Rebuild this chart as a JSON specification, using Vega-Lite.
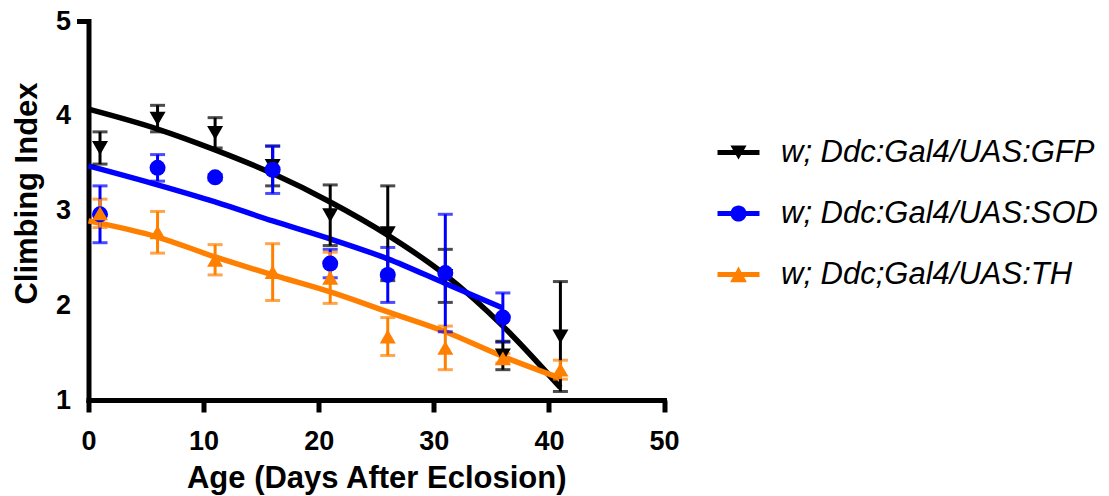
{
  "$schema": "https://vega.github.io/schema/vega-lite/v6.json",
  "width": 575.5,
  "height": 379,
  "autosize": {"type": "none"},
  "padding": {"left": 88.5, "top": 21, "right": 445, "bottom": 96},
  "background": "white",
  "config": {
    "view": {"stroke": null},
    "axis": {
      "grid": false,
      "domainColor": "black",
      "domainWidth": 5,
      "domainCap": "square",
      "tickColor": "black",
      "tickWidth": 5,
      "tickSize": 12,
      "labelFlush": false,
      "labelFont": "Liberation Sans",
      "labelFontWeight": "bold",
      "labelFontSize": 27,
      "labelColor": "black",
      "titleFont": "Liberation Sans",
      "titleFontWeight": "bold",
      "titleFontSize": 31,
      "titleColor": "black"
    }
  },
  "datasets": {
    "means": [
      {"day": 1, "climb": 3.66, "sem": 0.17, "genotype": "w; Ddc:Gal4/UAS:GFP"},
      {"day": 6, "climb": 3.97, "sem": 0.14, "genotype": "w; Ddc:Gal4/UAS:GFP"},
      {"day": 11, "climb": 3.82, "sem": 0.16, "genotype": "w; Ddc:Gal4/UAS:GFP"},
      {"day": 16, "climb": 3.47, "sem": 0.21, "genotype": "w; Ddc:Gal4/UAS:GFP"},
      {"day": 21, "climb": 2.95, "sem": 0.32, "genotype": "w; Ddc:Gal4/UAS:GFP"},
      {"day": 26, "climb": 2.76, "sem": 0.5, "genotype": "w; Ddc:Gal4/UAS:GFP"},
      {"day": 31, "climb": 2.31, "sem": 0.28, "genotype": "w; Ddc:Gal4/UAS:GFP"},
      {"day": 36, "climb": 1.47, "sem": 0.15, "genotype": "w; Ddc:Gal4/UAS:GFP"},
      {"day": 41, "climb": 1.67, "sem": 0.58, "genotype": "w; Ddc:Gal4/UAS:GFP"},
      {"day": 1, "climb": 2.96, "sem": 0.3, "genotype": "w; Ddc:Gal4/UAS:SOD"},
      {"day": 6, "climb": 3.45, "sem": 0.14, "genotype": "w; Ddc:Gal4/UAS:SOD"},
      {"day": 11, "climb": 3.35, "sem": 0.03, "genotype": "w; Ddc:Gal4/UAS:SOD"},
      {"day": 16, "climb": 3.43, "sem": 0.25, "genotype": "w; Ddc:Gal4/UAS:SOD"},
      {"day": 21, "climb": 2.44, "sem": 0.15, "genotype": "w; Ddc:Gal4/UAS:SOD"},
      {"day": 26, "climb": 2.32, "sem": 0.29, "genotype": "w; Ddc:Gal4/UAS:SOD"},
      {"day": 31, "climb": 2.34, "sem": 0.62, "genotype": "w; Ddc:Gal4/UAS:SOD"},
      {"day": 36, "climb": 1.87, "sem": 0.26, "genotype": "w; Ddc:Gal4/UAS:SOD"},
      {"day": 1, "climb": 2.97, "sem": 0.15, "genotype": "w; Ddc;Gal4/UAS:TH"},
      {"day": 6, "climb": 2.77, "sem": 0.22, "genotype": "w; Ddc;Gal4/UAS:TH"},
      {"day": 11, "climb": 2.48, "sem": 0.16, "genotype": "w; Ddc;Gal4/UAS:TH"},
      {"day": 16, "climb": 2.35, "sem": 0.3, "genotype": "w; Ddc;Gal4/UAS:TH"},
      {"day": 21, "climb": 2.29, "sem": 0.27, "genotype": "w; Ddc;Gal4/UAS:TH"},
      {"day": 26, "climb": 1.67, "sem": 0.2, "genotype": "w; Ddc;Gal4/UAS:TH"},
      {"day": 31, "climb": 1.55, "sem": 0.23, "genotype": "w; Ddc;Gal4/UAS:TH"},
      {"day": 36, "climb": 1.44, "sem": 0.05, "genotype": "w; Ddc;Gal4/UAS:TH"},
      {"day": 41, "climb": 1.32, "sem": 0.1, "genotype": "w; Ddc;Gal4/UAS:TH"}
    ],
    "fits": [
      {"day": 0, "climb": 4.07, "genotype": "w; Ddc:Gal4/UAS:GFP"},
      {"day": 6, "climb": 3.86, "genotype": "w; Ddc:Gal4/UAS:GFP"},
      {"day": 11, "climb": 3.64, "genotype": "w; Ddc:Gal4/UAS:GFP"},
      {"day": 16, "climb": 3.39, "genotype": "w; Ddc:Gal4/UAS:GFP"},
      {"day": 21, "climb": 3.09, "genotype": "w; Ddc:Gal4/UAS:GFP"},
      {"day": 26, "climb": 2.74, "genotype": "w; Ddc:Gal4/UAS:GFP"},
      {"day": 31, "climb": 2.32, "genotype": "w; Ddc:Gal4/UAS:GFP"},
      {"day": 36, "climb": 1.78, "genotype": "w; Ddc:Gal4/UAS:GFP"},
      {"day": 41, "climb": 1.13, "genotype": "w; Ddc:Gal4/UAS:GFP"},
      {"day": 0, "climb": 3.47, "genotype": "w; Ddc:Gal4/UAS:SOD"},
      {"day": 6, "climb": 3.27, "genotype": "w; Ddc:Gal4/UAS:SOD"},
      {"day": 11, "climb": 3.09, "genotype": "w; Ddc:Gal4/UAS:SOD"},
      {"day": 16, "climb": 2.89, "genotype": "w; Ddc:Gal4/UAS:SOD"},
      {"day": 21, "climb": 2.7, "genotype": "w; Ddc:Gal4/UAS:SOD"},
      {"day": 26, "climb": 2.49, "genotype": "w; Ddc:Gal4/UAS:SOD"},
      {"day": 31, "climb": 2.23, "genotype": "w; Ddc:Gal4/UAS:SOD"},
      {"day": 36, "climb": 1.97, "genotype": "w; Ddc:Gal4/UAS:SOD"},
      {"day": 0, "climb": 2.89, "genotype": "w; Ddc;Gal4/UAS:TH"},
      {"day": 6, "climb": 2.72, "genotype": "w; Ddc;Gal4/UAS:TH"},
      {"day": 11, "climb": 2.51, "genotype": "w; Ddc;Gal4/UAS:TH"},
      {"day": 16, "climb": 2.32, "genotype": "w; Ddc;Gal4/UAS:TH"},
      {"day": 21, "climb": 2.14, "genotype": "w; Ddc;Gal4/UAS:TH"},
      {"day": 26, "climb": 1.93, "genotype": "w; Ddc;Gal4/UAS:TH"},
      {"day": 31, "climb": 1.72, "genotype": "w; Ddc;Gal4/UAS:TH"},
      {"day": 36, "climb": 1.46, "genotype": "w; Ddc;Gal4/UAS:TH"},
      {"day": 41, "climb": 1.23, "genotype": "w; Ddc;Gal4/UAS:TH"}
    ]
  },
  "encoding": {
    "x": {
      "field": "day",
      "type": "quantitative",
      "scale": {"domain": [0, 50], "nice": false, "zero": false},
      "axis": {
        "values": [0, 10, 20, 30, 40, 50],
        "title": "Age (Days After Eclosion)",
        "labelBaseline": "alphabetic",
        "labelPadding": 37,
        "titleBaseline": "alphabetic",
        "titleX": 287.75,
        "titleY": 87,
        "titleAnchor": "middle"
      }
    },
    "y": {
      "field": "climb",
      "type": "quantitative",
      "scale": {"domain": [1, 5], "nice": false, "zero": false},
      "axis": {
        "values": [1, 2, 3, 4, 5],
        "title": "Climbing Index",
        "labelPadding": 6,
        "tickOpacity": {"condition": {"test": "datum.value == 5", "value": 1}, "value": 0},
        "titleAngle": -90,
        "titleAlign": "center",
        "titleBaseline": "alphabetic",
        "titleX": -52,
        "titleY": 172
      }
    },
    "color": {
      "field": "genotype",
      "type": "nominal",
      "scale": {
        "domain": ["w; Ddc:Gal4/UAS:GFP", "w; Ddc:Gal4/UAS:SOD", "w; Ddc;Gal4/UAS:TH"],
        "range": ["#000000", "#0000FF", "#FF8000"]
      },
      "legend": null
    }
  },
  "resolve": {
    "scale": {"color": "independent", "shape": "independent"},
    "legend": {"color": "independent", "shape": "independent"}
  },
  "layer": [
    {
      "data": {"name": "fits"},
      "mark": {"type": "line", "interpolate": "monotone", "strokeWidth": 5.5}
    },
    {
      "data": {"name": "means"},
      "mark": {"type": "errorbar", "thickness": 3, "ticks": {"size": 15, "thickness": 3}},
      "encoding": {
        "yError": {"field": "sem"}
      }
    },
    {
      "data": {"name": "means"},
      "mark": {"type": "point", "filled": true, "size": 256, "opacity": 1},
      "encoding": {
        "shape": {
          "field": "genotype",
          "type": "nominal",
          "scale": {
            "domain": ["w; Ddc:Gal4/UAS:GFP", "w; Ddc:Gal4/UAS:SOD", "w; Ddc;Gal4/UAS:TH"],
            "range": ["triangle-down", "circle", "triangle-up"]
          },
          "legend": null
        }
      }
    },
    {
      "data": {"name": "means"},
      "mark": {"type": "point", "filled": true, "size": 196, "opacity": 0},
      "encoding": {
        "shape": {
          "field": "genotype",
          "type": "nominal",
          "scale": {
            "domain": ["w; Ddc:Gal4/UAS:GFP", "w; Ddc:Gal4/UAS:SOD", "w; Ddc;Gal4/UAS:TH"],
            "range": [
              "M-3,-0.35H3V0.35H-3Z M-1.15,-1L1.15,-1L0,1Z",
              "M-3,-0.35H3V0.35H-3Z M-1.15,0A1.15,1.15,0,1,1,1.15,0A1.15,1.15,0,1,1,-1.15,0Z",
              "M-3,-0.35H3V0.35H-3Z M0,-1.15L1.2,1.1L-1.2,1.1Z"
            ]
          },
          "legend": null
        },
        "color": {
          "field": "genotype",
          "type": "nominal",
          "scale": {
            "domain": ["w; Ddc:Gal4/UAS:GFP", "w; Ddc:Gal4/UAS:SOD", "w; Ddc;Gal4/UAS:TH"],
            "range": ["#000000", "#0000FF", "#FF8000"]
          },
          "legend": {
            "title": null,
            "orient": "none",
            "legendX": 634.5,
            "legendY": 116,
            "padding": 0,
            "rowPadding": 29,
            "symbolSize": 196,
            "symbolStrokeWidth": 0,
            "symbolOpacity": 1,
            "labelOffset": 27,
            "labelFont": "Liberation Sans",
            "labelFontStyle": "italic",
            "labelFontSize": 31,
            "labelColor": "black",
            "labelLimit": 0
          }
        }
      }
    }
  ]
}
